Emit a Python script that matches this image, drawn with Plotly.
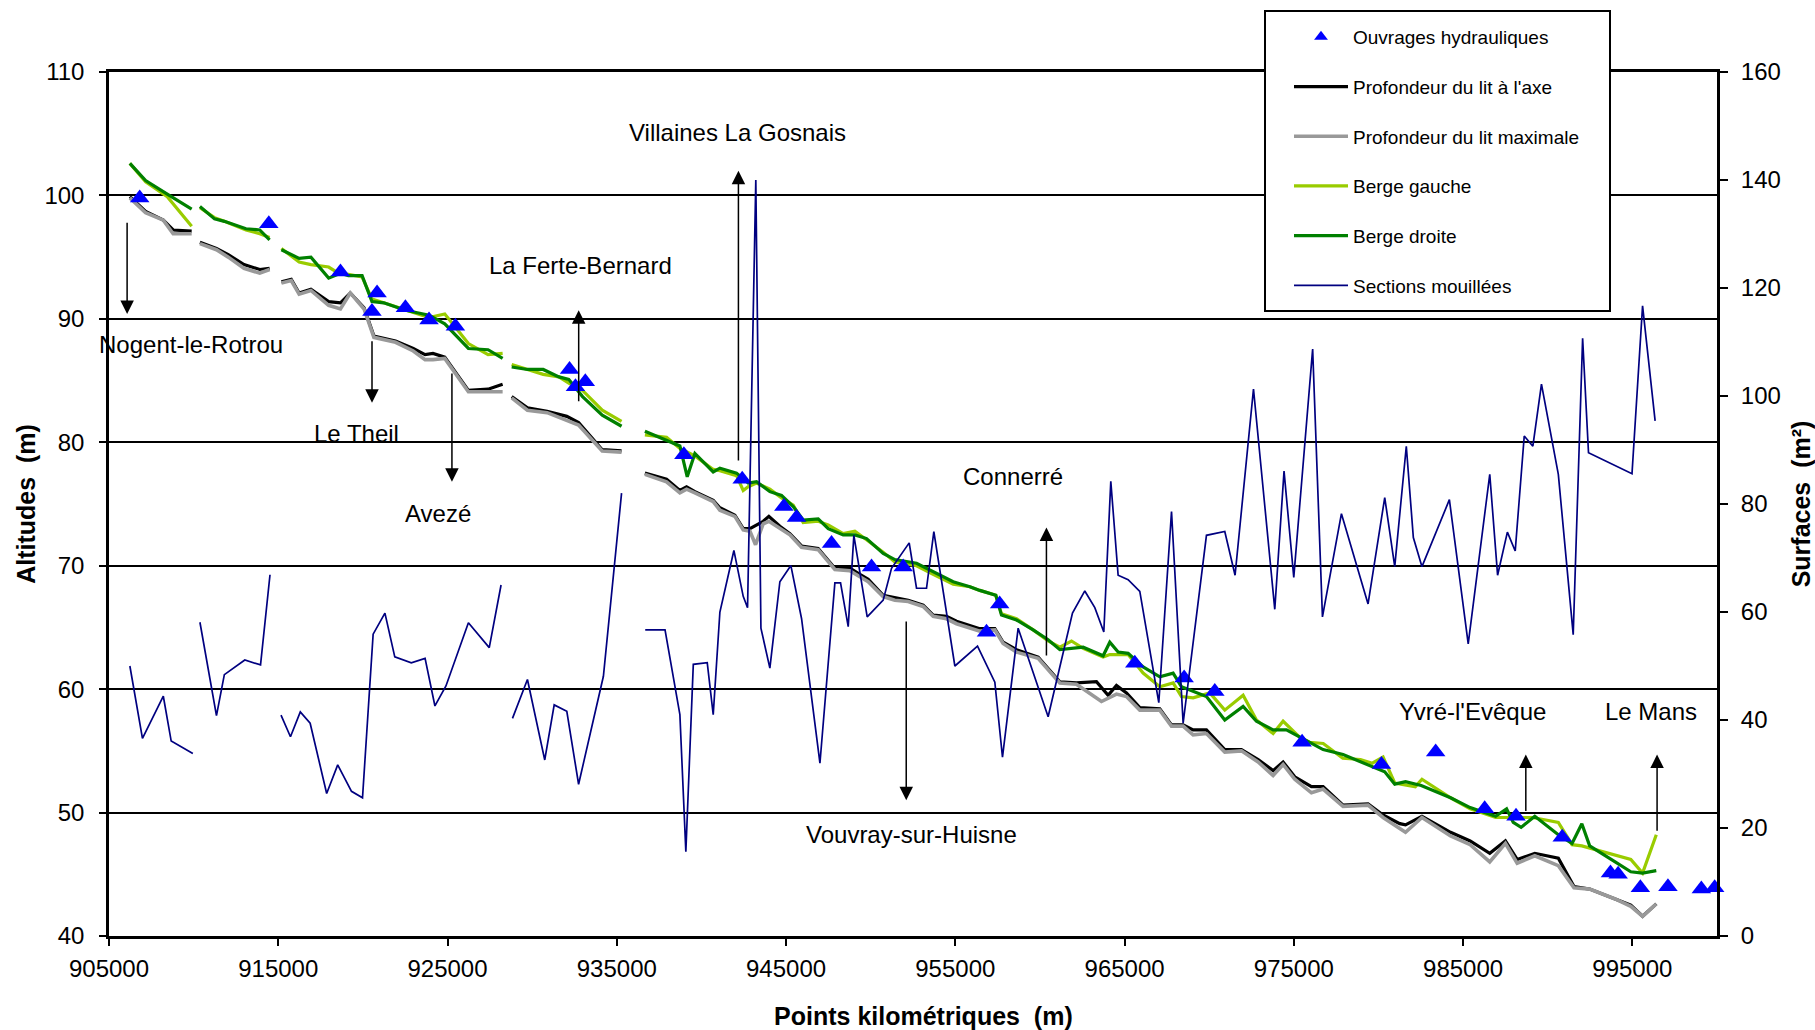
import plotly.graph_objects as go

FONT = "Liberation Sans, Arial, sans-serif"

# ---------------- data ----------------
ouvrages_pk = [906814, 914442, 918674, 920837, 920535, 922512, 923907, 925465, 932209, 932558,
               933140, 938964, 942410, 944871, 945620, 947687, 950050, 951920, 956843, 957620,
               965604, 968518, 970330, 975488, 980175, 983380, 986274, 988126, 990858, 993705,
               994159, 995472, 997102, 999075, 999862]
ouvrages_alt = [99.8, 97.7, 93.8, 92.1, 90.6, 90.9, 89.9, 89.4, 85.9, 84.5,
                84.9, 79.0, 77.0, 74.8, 73.9, 71.8, 69.9, 69.9, 64.6, 66.9,
                62.1, 60.9, 59.8, 55.7, 53.9, 54.9, 50.3, 49.7, 48.0, 45.1,
                45.0, 43.9, 44.0, 43.8, 43.9]

axe_pk = [906233, 907163, 908209, 908791, 909884, None,
          910372, 911349, 912047, 912977, 913907, 914488, None,
          915186, 915767, 916233, 916930, 917977, 918674, 919256, 920070, 920651, 921930,
          922977, 923674, 924140, 924837, 926233, 927395, 928256, None,
          928791, 929721, 930884, 932047, 932744, 934140, 935282, None,
          936660, 937940, 938728, 939122, 939614, 940697, 941091, 941977, 942469, 942863,
          943651, 943985, 944635, 945226, 945915, 946899, 947884, 948770, 949361, 949853,
          950739, 951428, 952216, 953102, 953692, 954480, 955071, 956448, 957334, 957826,
          958614, 959894, 961174, 962158, 963339, 964029, 964521, 965112, 965899, 967081,
          967770, 968459, 969050, 969837, 970920, 971905, 972890, 973775, 974366, 975055,
          976039, 976728, 977909, 979385, 980272, 981257, 981597, 982570, 984259, 985417,
          986575, 987500, 988194, 989236, 990626, 991552, 992478, 993983, 994909, 995603, 996413]
axe_alt = [99.9, 98.7, 98.0, 97.2, 97.1, None,
           96.2, 95.7, 95.2, 94.4, 94.0, 94.1, None,
           93.0, 93.2, 92.1, 92.4, 91.4, 91.3, 92.1, 90.9, 88.6, 88.2,
           87.6, 87.1, 87.2, 86.9, 84.2, 84.3, 84.7, None,
           83.7, 82.8, 82.5, 82.1, 81.6, 79.4, 79.3, None,
           77.5, 77.0, 76.1, 76.4, 76.0, 75.3, 74.7, 74.1, 73.0, 73.0,
           73.6, 74.0, 73.2, 72.6, 71.6, 71.4, 69.8, 69.8, 69.3, 68.9,
           67.6, 67.4, 67.2, 66.8, 66.0, 65.9, 65.5, 64.9, 64.9, 63.8,
           63.2, 62.6, 60.6, 60.5, 60.6, 59.5, 60.3, 59.7, 58.5, 58.4,
           57.1, 57.1, 56.7, 56.7, 55.1, 55.1, 54.3, 53.4, 54.1, 52.9,
           52.1, 52.1, 50.6, 50.7, 49.8, 49.1, 49.0, 49.7, 48.4, 47.7,
           46.7, 47.7, 46.2, 46.7, 46.3, 44.0, 43.8, 43.0, 42.5, 41.6, 42.6]

max_pk = [906233, 907163, 908209, 908791, 909884, None,
          910372, 911349, 912047, 912977, 913907, 914488, None,
          915186, 915767, 916233, 916930, 917977, 918674, 919256, 920070, 920651, 921930,
          922977, 923674, 924140, 924837, 926233, 927395, 928256, None,
          928791, 929721, 930884, 932047, 932744, 934140, 935282, None,
          936660, 937940, 938728, 939122, 939614, 940697, 941091, 941977, 942469, 942863,
          943198, 943651, 943985, 944635, 945226, 945915, 946899, 947884, 948770, 949361,
          949853, 950739, 951428, 952216, 953102, 953692, 954480, 955071, 956448, 957334,
          957826, 958614, 959894, 961174, 962158, 963635, 964521, 965112, 965899, 967081,
          967770, 968459, 969050, 969837, 970920, 971905, 972890, 973775, 974366, 975055,
          976039, 976728, 977909, 979385, 980272, 981257, 981597, 982570, 984259, 985417,
          986575, 987500, 988194, 989236, 990626, 991552, 992478, 993983, 994909, 995603, 996413]
max_alt = [99.8, 98.6, 98.0, 96.9, 96.9, None,
           96.1, 95.6, 95.0, 94.1, 93.7, 94.0, None,
           92.9, 93.1, 92.0, 92.3, 91.1, 90.8, 92.1, 90.8, 88.5, 88.1,
           87.4, 86.7, 86.7, 86.8, 84.1, 84.1, 84.1, None,
           83.6, 82.6, 82.4, 81.8, 81.4, 79.3, 79.2, None,
           77.4, 76.8, 75.9, 76.2, 75.9, 75.2, 74.5, 74.0, 72.9, 72.8,
           71.7, 73.4, 73.6, 73.0, 72.5, 71.5, 71.3, 69.7, 69.6, 69.1,
           68.7, 67.5, 67.2, 67.1, 66.7, 65.9, 65.7, 65.3, 64.7, 64.8,
           63.7, 63.0, 62.5, 60.5, 60.4, 59.0, 59.6, 59.4, 58.3, 58.3,
           57.0, 57.0, 56.3, 56.4, 54.9, 55.0, 54.1, 53.0, 53.9, 52.7,
           51.6, 51.9, 50.5, 50.6, 49.6, 48.7, 48.4, 49.6, 48.1, 47.4,
           46.0, 47.5, 45.9, 46.5, 45.7, 43.9, 43.8, 43.0, 42.4, 41.6, 42.6]

gauche_pk = [906233, 907163, 908442, 909884, None,
             910372, 911233, 911814, 913093, 913907, 914488, None,
             915186, 916233, 916930, 917977, 918674, 919140, 919953, 920535, 921233, 922512,
             923907, 924837, 926233, 927395, 928256, None,
             928791, 929721, 930651, 931581, 932163, 932977, 934140, 935282, None,
             936660, 937940, 938728, 939614, 940697, 941091, 942075, 942469, 942764, 943257,
             944044, 944734, 945423, 946013, 946899, 947490, 948376, 949065, 949755, 950739,
             951428, 952708, 953692, 954874, 955858, 956448, 957393, 957728, 958614, 959598,
             960484, 961174, 961863, 962552, 963733, 964127, 964619, 965210, 966096, 967081,
             967868, 968360, 969050, 970034, 970920, 972003, 972791, 973775, 974366, 975350,
             975926, 976736, 977893, 978935, 979630, 980272, 980961, 982176, 982570, 984259,
             985417, 986921, 989121, 990626, 991436, 992015, 994909, 995603, 996413]
gauche_alt = [102.6, 101.1, 99.9, 97.5, None,
              99.0, 98.2, 97.9, 97.2, 96.9, 96.6, None,
              95.7, 94.6, 94.4, 94.2, 93.6, 93.6, 93.4, 91.6, 91.3, 90.7,
              90.1, 90.4, 88.0, 87.1, 87.2, None,
              86.3, 85.9, 85.5, 85.3, 84.8, 84.2, 82.6, 81.7, None,
              80.6, 80.4, 79.5, 78.9, 77.8, 77.7, 77.3, 76.1, 76.4, 76.7,
              76.2, 75.5, 74.9, 73.5, 73.6, 73.3, 72.6, 72.8, 72.1, 71.1,
              70.3, 70.0, 69.3, 68.5, 68.3, 68.0, 67.6, 66.1, 65.7, 64.8,
              63.9, 63.4, 63.9, 63.3, 62.6, 62.8, 62.8, 62.8, 61.3, 60.2,
              60.5, 59.4, 59.3, 59.7, 58.3, 59.5, 57.5, 56.4, 57.4, 56.1,
              55.7, 55.6, 54.4, 54.3, 54.0, 54.5, 52.4, 52.1, 52.7, 51.2,
              50.3, 49.6, 49.6, 49.2, 47.4, 47.3, 46.2, 45.1, 48.2]

droite_pk = [906233, 907163, 908442, 909884, None,
             910372, 911233, 911814, 913093, 913907, 914488, None,
             915186, 916233, 916930, 917977, 918674, 919140, 919953, 920535, 921233, 922512,
             923907, 924837, 926233, 927395, 928256, None,
             928791, 929721, 930651, 931581, 932163, 932977, 934140, 935282, None,
             936660, 937940, 938728, 939161, 939614, 940697, 941091, 942075, 942764, 943257,
             944044, 944734, 945423, 946013, 946899, 947490, 948376, 949065, 949755, 950739,
             951428, 952708, 953692, 954874, 955858, 956448, 957393, 957728, 958614, 959598,
             960484, 961174, 962552, 963733, 964127, 964619, 965210, 966096, 967081, 967868,
             968360, 969050, 969837, 970920, 972003, 972791, 973775, 974563, 975350, 976728,
             977909, 979385, 980370, 980961, 981597, 982523, 984259, 985417, 986921, 987569,
             987963, 988426, 989236, 990626, 991436, 992015, 992478, 993983, 994909, 995603, 996413]
droite_alt = [102.6, 101.2, 100.1, 98.9, None,
              99.1, 98.1, 97.9, 97.3, 97.2, 96.4, None,
              95.6, 94.9, 95.0, 93.3, 93.7, 93.5, 93.5, 91.4, 91.3, 90.7,
              90.3, 89.6, 87.6, 87.5, 86.8, None,
              86.1, 85.9, 85.9, 85.3, 85.1, 83.7, 82.2, 81.3, None,
              80.9, 80.2, 79.7, 77.2, 79.1, 77.6, 77.9, 77.5, 76.7, 76.8,
              76.0, 75.7, 74.8, 73.7, 73.8, 73.0, 72.5, 72.5, 72.2, 71.0,
              70.5, 70.2, 69.5, 68.7, 68.3, 68.0, 67.6, 66.0, 65.6, 64.8,
              64.0, 63.2, 63.4, 62.7, 63.8, 63.0, 62.9, 61.8, 61.0, 61.3,
              60.2, 59.8, 59.4, 57.5, 58.6, 57.4, 56.7, 56.7, 56.1, 55.1,
              54.7, 53.9, 53.3, 52.3, 52.5, 52.2, 51.2, 50.4, 49.7, 50.3,
              49.2, 48.8, 49.7, 48.2, 47.5, 49.1, 47.3, 46.0, 45.2, 45.1, 45.3]

sections_pk = [906233, 906977, 908209, 908674, 909953, None,
               910372, 911349, 911814, 913023, 913953, 914512, None,
               915163, 915721, 916302, 916884, 917860, 918512, 919326, 919977, 920605, 921302,
               921884, 922860, 923674, 924256, 924907, 926233, 927465, 928163, None,
               928837, 929721, 930744, 931302, 932047, 932744, 934209, 935282, None,
               936680, 937850, 938728, 939080, 939520, 940343, 940697, 941091, 941918, 942469,
               942725, 943213, 943516, 944044, 944635, 945285, 945915, 947002, 947884, 948219,
               948672, 949006, 949794, 950739, 951231, 952275, 952708, 953299, 953732, 954973,
               956311, 957335, 957787, 958712, 960484, 961922, 962650, 963241, 963773, 964186,
               964619, 965210, 965899, 967021, 967773, 968459, 969837, 970920, 971528, 972616,
               973874, 974421, 974996, 976111, 976690, 977812, 979385, 980370, 980961, 981644,
               982060, 982570, 984190, 985302, 986575, 987038, 987616, 988079, 988612, 989121,
               989630, 990626, 991505, 992061, 992409, 994978, 995603, 996344]
sections_m2 = [50.0, 36.6, 44.4, 36.1, 33.8, None,
               58.1, 40.8, 48.4, 51.1, 50.2, 66.9, None,
               40.9, 36.9, 41.5, 39.4, 26.4, 31.7, 26.8, 25.6, 55.9, 59.8,
               51.7, 50.6, 51.4, 42.6, 46.3, 58.0, 53.4, 65.0, None,
               40.3, 47.5, 32.6, 42.8, 41.6, 28.1, 48.1, 82.0, None,
               56.7, 56.7, 41.0, 15.6, 50.3, 50.6, 41.0, 60.0, 71.4, 62.9,
               60.8, 140.0, 57.0, 49.6, 65.6, 68.6, 58.8, 32.0, 65.4, 65.4,
               57.3, 74.2, 59.1, 62.2, 68.1, 72.8, 64.4, 64.4, 74.9, 50.0,
               53.7, 47.0, 33.1, 57.0, 40.6, 59.8, 63.9, 60.8, 56.3, 84.2,
               66.8, 66.0, 63.8, 43.2, 78.6, 39.4, 74.2, 74.9, 66.8, 101.3,
               60.5, 86.1, 66.4, 108.7, 59.1, 78.2, 61.5, 81.2, 68.4, 90.7,
               73.8, 68.4, 80.8, 54.1, 85.5, 66.8, 74.8, 71.3, 92.6, 90.7,
               102.2, 85.5, 55.8, 110.7, 89.5, 85.6, 116.7, 95.4]

# town markers: label, arrow x, arrow tail y, arrow head y, label x, label y
villes = ["Nogent-le-Rotrou", "Le Theil", "Avezé", "La Ferte-Bernard", "Villaines La Gosnais",
          "Connerré", "Vouvray-sur-Huisne", "Yvré-l'Evêque", "Le Mans"]
villes_pk = [906070, 920538, 925260, 932749, 942186, 960383, 952100, 988705, 996460]
fleche_queue = [97.9, 88.3, 85.7, 83.2, 78.4, 62.6, 65.6, 50.0, 48.4]
fleche_tete = [90.4, 83.2, 76.8, 90.7, 102.0, 73.1, 51.0, 54.7, 54.7]
label_pk = [909860, 919607, 924445, 932880, 942139, 958400, 952427, 985533, 996090]
label_alt = [87.9, 80.75, 74.2, 94.3, 105.1, 77.2, 48.2, 58.2, 58.2]

# ---------------- figure ----------------
fig = go.Figure()

fig.add_trace(go.Scatter(x=axe_pk, y=axe_alt, mode="lines", name="Profondeur du lit à l'axe",
                         line=dict(color="#000000", width=3.2), legendrank=2, legendgroup="g2"))
fig.add_trace(go.Scatter(x=max_pk, y=max_alt, mode="lines", name="Profondeur du lit maximale",
                         line=dict(color="#999999", width=3.6), legendrank=3, legendgroup="g3"))
fig.add_trace(go.Scatter(x=gauche_pk, y=gauche_alt, mode="lines", name="Berge gauche",
                         line=dict(color="#99CC00", width=3.2), legendrank=4, legendgroup="g4"))
fig.add_trace(go.Scatter(x=droite_pk, y=droite_alt, mode="lines", name="Berge droite",
                         line=dict(color="#008000", width=3.2), legendrank=5, legendgroup="g5"))
fig.add_trace(go.Scatter(x=ouvrages_pk, y=ouvrages_alt, mode="markers", name="Ouvrages hydrauliques",
                         marker=dict(symbol="triangle-up", color="#0000FF", size=17),
                         cliponaxis=False, showlegend=False, legendgroup="g1"))
# legend entry for the markers (smaller symbol, as in the original legend)
fig.add_trace(go.Scatter(x=[None], y=[None], mode="markers", name="Ouvrages hydrauliques",
                         marker=dict(symbol="triangle-up", color="#0000FF", size=12),
                         legendrank=1, legendgroup="g1"))
fig.add_trace(go.Scatter(x=sections_pk, y=sections_m2, mode="lines", name="Sections mouillées",
                         line=dict(color="#000080", width=1.7), yaxis="y2", legendrank=6,
                         legendgroup="g6"))

annotations = []
for v, px, yq, yt, lx, ly in zip(villes, villes_pk, fleche_queue, fleche_tete, label_pk, label_alt):
    annotations.append(dict(x=px, y=yt, ax=px, ay=yq, xref="x", yref="y", axref="x", ayref="y",
                            text="", showarrow=True, arrowhead=2, arrowsize=1.8, arrowwidth=1.5,
                            arrowcolor="#000000", standoff=0, startstandoff=0))
    annotations.append(dict(x=lx, y=ly, xref="x", yref="y", text=v, showarrow=False,
                            font=dict(family=FONT, size=24, color="#000000"),
                            xanchor="center", yanchor="middle"))

PL, PR, PT, PB = 109, 1717, 72, 936          # plot area in pixels
PW, PH = PR - PL, PB - PT

fig.update_layout(
    width=1815, height=1030,
    margin=dict(l=PL, r=1815 - PR, t=PT, b=1030 - PB, autoexpand=False),
    paper_bgcolor="white", plot_bgcolor="white",
    font=dict(family=FONT, size=24, color="#000000"),
    showlegend=True,
    legend=dict(x=(1289 - PL) / PW, y=(PB - 18) / PH, xanchor="left", yanchor="top",
                bgcolor="rgba(0,0,0,0)", borderwidth=0,
                font=dict(family=FONT, size=19, color="#000000"),
                traceorder="grouped", tracegroupgap=22, itemwidth=54, itemsizing="trace"),
    shapes=[dict(type="rect", xref="paper", yref="paper",
                 x0=(1265 - PL) / PW, x1=(1610 - PL) / PW,
                 y0=(PB - 311) / PH, y1=(PB - 11) / PH,
                 fillcolor="white", line=dict(color="#000000", width=2), layer="above")],
    xaxis=dict(range=[905000, 1000000], tick0=905000, dtick=10000, tickformat="d",
               showgrid=False, zeroline=False, showline=True, linecolor="#000000", linewidth=2.5,
               mirror=True, ticks="outside", ticklen=7, tickwidth=2, tickcolor="#000000",
               ticklabelstandoff=2,
               title=dict(text="<b>\u00a0\u00a0\u00a0Points kilométriques\u00a0 (m)</b>", standoff=34,
                          font=dict(family=FONT, size=25)),
               automargin=False),
    yaxis=dict(range=[40, 110], dtick=10, showgrid=True, gridcolor="#000000", gridwidth=2,
               zeroline=False, showline=True, linecolor="#000000", linewidth=2.5,
               ticks="outside", ticklen=7, tickwidth=2, tickcolor="#000000",
               ticklabelstandoff=10,
               title=dict(text="<b>Altitudes\u00a0 (m)</b>", standoff=2,
                          font=dict(family=FONT, size=25)),
               automargin=False),
    yaxis2=dict(range=[0, 160], dtick=20, overlaying="y", side="right", showgrid=False,
                zeroline=False, showline=True, linecolor="#000000", linewidth=3,
                ticks="outside", ticklen=8, tickwidth=2, tickcolor="#000000",
                ticklabelstandoff=8,
                title=dict(text="<b>Surfaces\u00a0 (m²)</b>", standoff=24,
                           font=dict(family=FONT, size=25)),
                automargin=False),
    annotations=annotations,
)

fig.write_html("out.html", config={"displayModeBar": False},
               post_script="document.body.style.margin='0';")
